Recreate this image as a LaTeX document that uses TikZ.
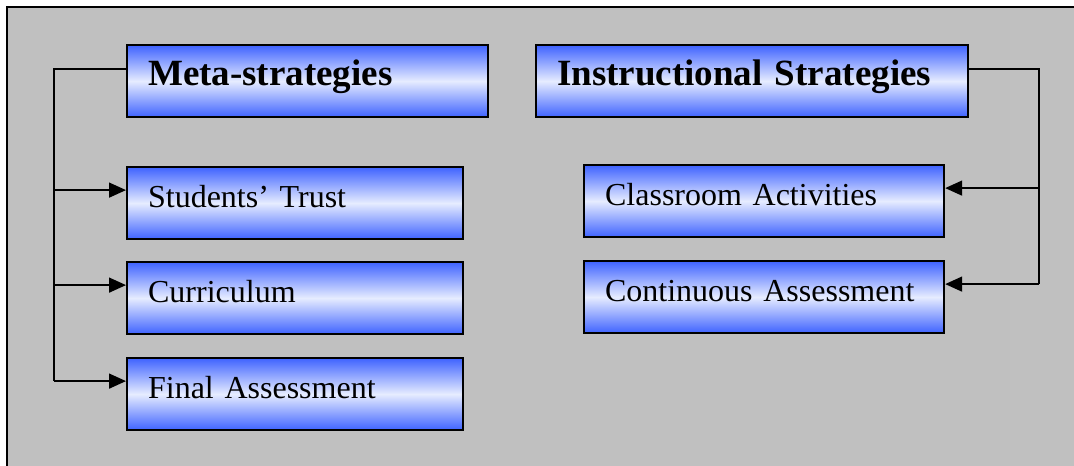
\documentclass[tikz,border=0pt]{standalone}
\usepackage{fontspec}
\setmainfont{Liberation Serif}
\usepackage{xcolor}
\usetikzlibrary{arrows.meta}

\definecolor{panelgray}{HTML}{C0C0C0}
\definecolor{boxblue}{HTML}{3F63FF}
\definecolor{boxpale}{HTML}{E6ECFF}

\begin{document}
\begin{tikzpicture}[x=1pt,y=-1pt,
  box/.style={draw=black,line width=2.2pt,
    top color=boxblue,bottom color=boxblue,middle color=boxpale,
    anchor=north west,minimum height=72pt,inner xsep=21pt,
    text width=#1,align=left,text height=13pt,text depth=5pt},
  head/.style={box=#1,font=\bfseries\fontsize{37}{44}\selectfont},
  item/.style={box=#1,font=\fontsize{32}{38}\selectfont},
  link/.style={line width=1.6pt},
  feed/.style={link,-{Triangle[length=17pt,width=15pt]}}]
  \clip (0,0) rectangle (1074,466);
  % grey panel behind everything
  \draw[line width=2pt,fill=panelgray] (7,7) rectangle (1100,500);

  % left column
  \node[head=319pt] (meta)  at (126,44)  {Meta-strategies};
  \node[item=294pt] (trust) at (126,166) {Students’ Trust};
  \node[item=294pt] (curr)  at (126,261) {Curriculum};
  \node[item=294pt] (final) at (126,357) {Final Assessment};

  % right column
  \node[head=390pt] (instr) at (535,44)  {Instructional Strategies};
  \node[item=318pt] (class) at (583,164) {Classroom Activities};
  \node[item=318pt] (cont)  at (583,260) {Continuous Assessment};

  % bus lines
  \coordinate (lbus) at (54,0);
  \coordinate (rbus) at (1039,0);
  \coordinate (meta-out)  at ([yshift=12pt]meta.west);
  \coordinate (instr-out) at ([yshift=12pt]instr.east);
  \foreach \n in {trust,curr,final}
    \coordinate (\n-in) at ([yshift=13pt]\n.west);
  \foreach \n in {class,cont}
    \coordinate (\n-in) at ([yshift=13pt]\n.east);

  \draw[link] (meta-out) -| (lbus |- final-in);
  \foreach \n in {trust,curr,final}
    \draw[feed] (lbus |- \n-in) -- (\n-in);

  \draw[link] (instr-out) -| (rbus |- cont-in);
  \foreach \n in {class,cont}
    \draw[feed] (rbus |- \n-in) -- (\n-in);
\end{tikzpicture}
\end{document}
